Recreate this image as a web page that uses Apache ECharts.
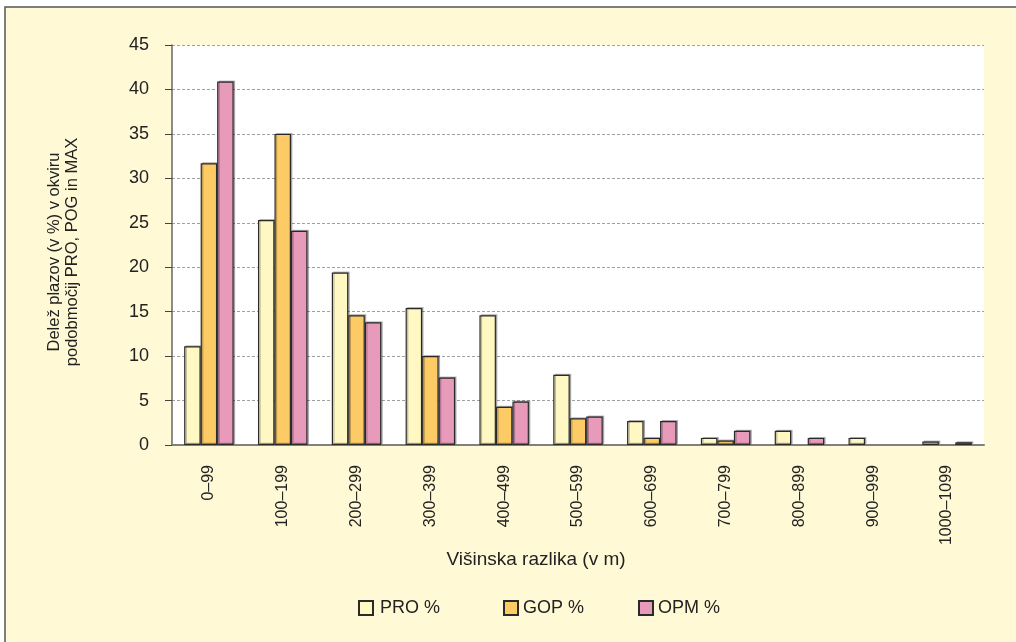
<!DOCTYPE html>
<html>
<head>
<meta charset="utf-8">
<script src="https://cdn.jsdelivr.net/npm/echarts@6/dist/echarts.min.js"></script>
<style>
  html, body { margin: 0; padding: 0; background: #ffffff; }
  #chart { width: 1016px; height: 642px; }
</style>
</head>
<body>
<div id="chart"></div>
<script>
// Height-difference classes (m)
const categories = ['0\u201399', '100\u2013199', '200\u2013299', '300\u2013399', '400\u2013499',
  '500\u2013599', '600\u2013699', '700\u2013799', '800\u2013899', '900\u2013999', '1000\u20131099'];

// Share of landslides (%) per sub-region
const pro = [11.1, 25.3, 19.4, 15.4, 14.6, 7.9, 2.7, 0.8, 1.6, 0.8, 0.4];
const gop = [31.7, 35.0, 14.6, 10.0, 4.3, 3.0, 0.8, 0.5, 0, 0, 0];
const opm = [40.9, 24.1, 13.8, 7.6, 4.9, 3.2, 2.7, 1.6, 0.8, 0, 0.3];

const seriesNames = ['PRO %', 'GOP %', 'OPM %'];
const yTicks = [0, 5, 10, 15, 20, 25, 30, 35, 40, 45];

const FONT = '"Liberation Sans", Arial, sans-serif';
const TXT = '#222222';
const colors = ['#FFF8C2', '#FDCB65', '#E89ABB'];

const chart = echarts.init(document.getElementById('chart'), null, { renderer: 'canvas' });

// zero-height bars get no outline, so empty classes stay blank
function bar(name, values, color) {
  return {
    name: name,
    type: 'bar',
    data: values.map(v => (v === 0 ? { value: v, itemStyle: { borderWidth: 0, shadowColor: 'transparent' } } : v)),
    barWidth: 16.5,
    barGap: '0%',
    itemStyle: {
      color: color,
      borderColor: '#2a2a2a',
      borderWidth: 1.2,
      shadowColor: 'rgba(0,0,0,0.25)',
      shadowOffsetX: 1.5,
      shadowOffsetY: -1
    }
  };
}

function legendAt(name, left, gap) {
  return {
    data: [name],
    left: left,
    top: 599,
    itemWidth: 14,
    itemHeight: 14,
    itemGap: 0,
    padding: 0,
    icon: 'rect',
    textStyle: { fontFamily: FONT, fontSize: 18, color: TXT, padding: [0, 0, 0, gap] }
  };
}

chart.setOption({
  backgroundColor: '#ffffff',
  animation: false,
  graphic: [
    {
      type: 'rect', z: -10, silent: true,
      shape: { x: 5, y: 7, width: 1100, height: 1000 },
      style: { fill: '#FFF9D6', stroke: '#555555', lineWidth: 1.5 }
    },
    {
      type: 'text', x: 63, y: 252, rotation: Math.PI / 2,
      style: {
        text: 'Delež plazov (v %) v okviru\npodobmočij PRO, POG in MAX',
        fontFamily: FONT, fontSize: 16.5, fill: TXT, lineHeight: 18,
        align: 'center', verticalAlign: 'middle'
      }
    },
    {
      type: 'text', x: 536, y: 560,
      style: {
        text: 'Višinska razlika (v m)',
        fontFamily: FONT, fontSize: 19, fill: TXT,
        align: 'center', verticalAlign: 'middle'
      }
    }
  ],
  legend: [
    legendAt(seriesNames[0], 358, 2),
    legendAt(seriesNames[1], 503, 0),
    legendAt(seriesNames[2], 638, 0)
  ],
  grid: {
    left: 172, right: 32, top: 45, bottom: 197,
    show: true, backgroundColor: '#ffffff', borderWidth: 0
  },
  xAxis: {
    type: 'category',
    data: categories,
    axisLine: { lineStyle: { color: '#808080', width: 2 } },
    axisTick: { show: false },
    axisLabel: {
      rotate: 90, margin: 20, interval: 0,
      fontFamily: FONT, fontSize: 16, color: TXT
    }
  },
  yAxis: {
    type: 'value',
    min: yTicks[0],
    max: yTicks[yTicks.length - 1],
    interval: 5,
    axisLine: { show: true, lineStyle: { color: '#666666', width: 1.5 } },
    axisTick: { show: true, length: 7, lineStyle: { color: '#444444' } },
    axisLabel: { margin: 23, fontFamily: FONT, fontSize: 18, color: TXT },
    splitLine: { lineStyle: { color: '#a0a0a0', type: [3, 2], width: 1 } }
  },
  series: [
    bar(seriesNames[0], pro, colors[0]),
    bar(seriesNames[1], gop, colors[1]),
    bar(seriesNames[2], opm, colors[2])
  ]
});
</script>
</body>
</html>
